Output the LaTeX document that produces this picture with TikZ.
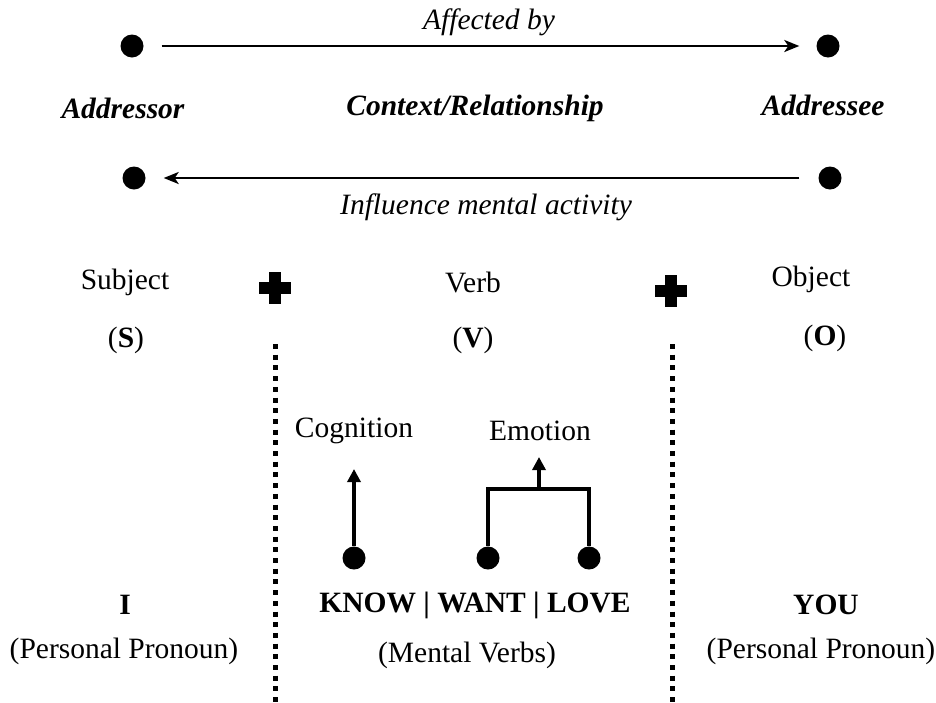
\documentclass[tikz,border=0pt]{standalone}
\usepackage{fontspec}
\setmainfont{Liberation Serif}
\usetikzlibrary{arrows.meta}

\tikzset{
  txt/.style={font=\fontsize{29.5}{33}\selectfont, inner sep=0pt},
  dot/.style={circle, fill=black, inner sep=0pt, minimum size=23pt},
  flow/.style={line width=2.5pt, -{Stealth[length=15pt,width=12pt,inset=4pt]}},
  branch/.style={line width=4pt},
  up/.style={line width=4pt, -{Triangle[length=13pt,width=13pt]}},
  divider/.style={line width=5pt, dash pattern=on 5pt off 5.7pt},
  plussign/.style={line width=11.5pt}
}

\begin{document}
\begin{tikzpicture}[x=1pt, y=-1pt]
\useasboundingbox (0,0) rectangle (936,702);

% addressor / addressee
\node[dot] (ltop) at (132,46) {};
\node[dot] (rtop) at (828,46) {};
\node[dot] (lbot) at (134,178) {};
\node[dot] (rbot) at (830,178) {};

\node[txt] (affected) at (489,22) {\itshape Affected by};
\node[txt] (addressor) at (123,108) {\bfseries\itshape Addressor};
\node[txt] (context) at (475,108) {\bfseries\itshape Context/Relationship};
\node[txt] (addressee) at (823,105) {\bfseries\itshape Addressee};
\node[txt] (influence) at (486,207) {\itshape Influence mental activity};

\draw[flow, shorten <=18pt, shorten >=17pt] (ltop) -- (rtop);
\draw[flow, shorten <=19pt, shorten >=18pt] (rbot) -- (lbot);

% S + V + O
\node[txt] (subject) at (125,282) {Subject};
\node[txt] (verb) at (473,282) {Verb};
\node[txt] (object) at (811,279) {Object};
\node[txt] (s) at (126,340) {(\textbf{S})};
\node[txt] (v) at (473,340) {(\textbf{V})};
\node[txt] (o) at (825,338) {(\textbf{O})};

% plus signs
\draw[plussign] (259,288) -- (291,288) (275,272) -- (275,304);
\draw[plussign] (655,291) -- (687,291) (671,275) -- (671,307);

% dotted dividers
\draw[divider] (275,344) -- (275,702);
\draw[divider] (672,344) -- (672,702);

% mental verbs
\node[txt] (cognition) at (354,431) {Cognition};
\node[txt] (emotion) at (540,431) {Emotion};

\node[dot] (know) at (354,558) {};
\node[dot] (want) at (488,558) {};
\node[dot] (love) at (589,558) {};
\coordinate (cogtip) at (354,469);
\coordinate (wantup) at (488,489);
\coordinate (loveup) at (589,489);
\coordinate (emomid) at (539,489);
\coordinate (emotip) at (539,457);

\draw[up] (know) -- (cogtip);
\draw[branch] (want) -- (wantup) -- (loveup) -- (love);
\draw[up] (emomid) -- (emotip);

% words
\node[txt] (i) at (125,605) {\bfseries I};
\node[txt] (kwl) at (475,605) {\bfseries KNOW | WANT | LOVE};
\node[txt] (you) at (826,605) {\bfseries YOU};
\node[txt] (pron1) at (124,651) {(Personal Pronoun)};
\node[txt] (mental) at (467,655) {(Mental Verbs)};
\node[txt] (pron2) at (821,651) {(Personal Pronoun)};

\end{tikzpicture}
\end{document}
